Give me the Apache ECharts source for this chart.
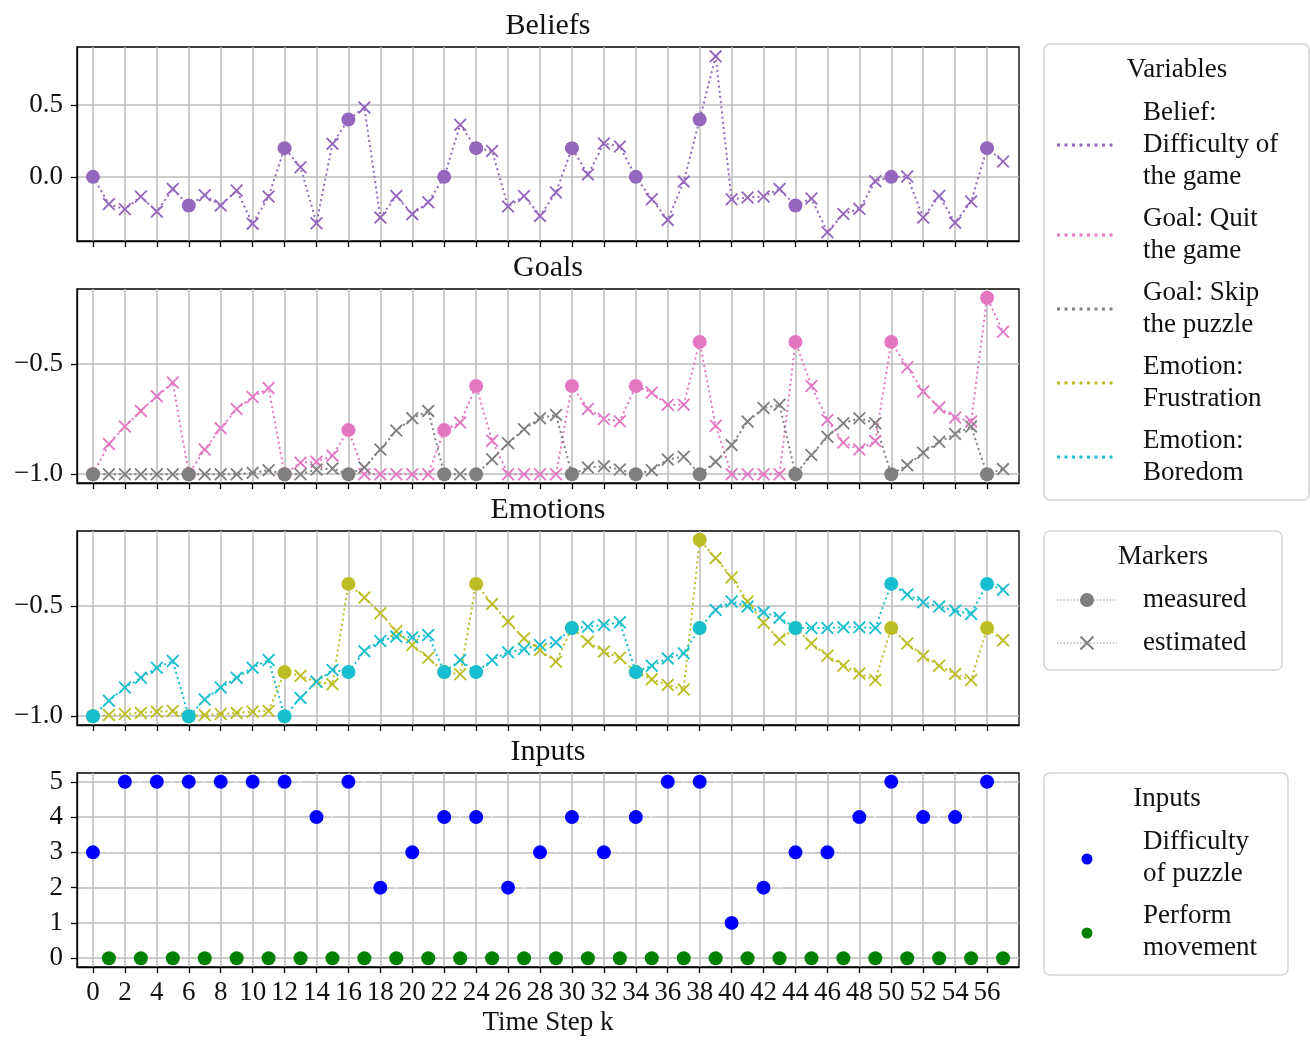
<!DOCTYPE html>
<html>
<head>
<meta charset="utf-8">
<script src="https://cdn.jsdelivr.net/npm/echarts@6.0.0/dist/echarts.min.js"></script>
<style>
  html, body { margin: 0; padding: 0; background: #ffffff; }
  #chart { width: 1310px; height: 1040px; }
</style>
</head>
<body>
<div id="chart"></div>
<script>
// Time steps of the session
const steps = Array.from({ length: 58 }, (_, k) => k);
// Steps at which the variables were measured (all others are estimated)
const measuredSteps = [0, 6, 12, 16, 22, 24, 30, 34, 38, 44, 50, 56];

// Belief: difficulty of the game
const beliefDifficulty = [0, -0.19, -0.226, -0.137, -0.242, -0.084, -0.2, -0.128, -0.2, -0.095,
  -0.326, -0.137, 0.2, 0.067, -0.323, 0.23, 0.4, 0.484, -0.284, -0.133,
  -0.26, -0.177, 0, 0.363, 0.2, 0.18, -0.207, -0.133, -0.272, -0.109,
  0.2, 0.016, 0.233, 0.212, 0, -0.156, -0.3, -0.033, 0.4, 0.84,
  -0.156, -0.144, -0.137, -0.084, -0.2, -0.151, -0.386, -0.258, -0.223, -0.03,
  0, 0.002, -0.284, -0.133, -0.319, -0.172, 0.2, 0.107];

// Goal: quit the game
const goalQuit = [-1, -0.863, -0.784, -0.713, -0.647, -0.584, -1, -0.888, -0.792, -0.704,
  -0.65, -0.609, -1, -0.948, -0.944, -0.916, -0.8, -1, -1, -1,
  -1, -1, -0.8, -0.766, -0.6, -0.848, -1, -1, -1, -1,
  -0.6, -0.704, -0.75, -0.76, -0.6, -0.63, -0.685, -0.685, -0.4, -0.78,
  -1, -1, -1, -1, -0.4, -0.6, -0.754, -0.856, -0.888, -0.85,
  -0.4, -0.515, -0.625, -0.698, -0.743, -0.761, -0.2, -0.354];

// Goal: skip the puzzle
const goalSkip = [-1, -1, -1, -1, -1, -1, -1, -1, -1, -1,
  -0.994, -0.982, -1, -1, -0.979, -0.974, -1, -0.97, -0.888, -0.802,
  -0.746, -0.713, -1, -1, -1, -0.932, -0.86, -0.796, -0.746, -0.731,
  -1, -0.97, -0.964, -0.979, -1, -0.982, -0.933, -0.921, -1, -0.944,
  -0.868, -0.761, -0.7, -0.685, -1, -0.913, -0.83, -0.769, -0.746, -0.769,
  -1, -0.959, -0.903, -0.853, -0.818, -0.784, -1, -0.977];

// Emotion: frustration
const emotionFrustration = [-1, -0.995, -0.99, -0.985, -0.98, -0.976, -1, -0.995, -0.99, -0.985,
  -0.98, -0.976, -0.8, -0.817, -0.844, -0.855, -0.4, -0.462, -0.533, -0.614,
  -0.677, -0.735, -0.8, -0.81, -0.4, -0.491, -0.571, -0.647, -0.7, -0.753,
  -0.6, -0.662, -0.707, -0.735, -0.8, -0.833, -0.858, -0.879, -0.2, -0.283,
  -0.371, -0.48, -0.576, -0.652, -0.6, -0.67, -0.726, -0.771, -0.806, -0.836,
  -0.6, -0.67, -0.727, -0.771, -0.809, -0.836, -0.6, -0.656];

// Emotion: boredom
const emotionBoredom = [-1, -0.93, -0.87, -0.826, -0.78, -0.75, -1, -0.924, -0.87, -0.826,
  -0.78, -0.745, -1, -0.917, -0.844, -0.79, -0.8, -0.705, -0.659, -0.639,
  -0.642, -0.632, -0.8, -0.745, -0.8, -0.745, -0.71, -0.695, -0.677, -0.665,
  -0.6, -0.594, -0.586, -0.574, -0.8, -0.771, -0.738, -0.715, -0.6, -0.518,
  -0.48, -0.503, -0.529, -0.553, -0.6, -0.6, -0.6, -0.597, -0.597, -0.6,
  -0.4, -0.448, -0.483, -0.503, -0.521, -0.536, -0.4, -0.426];

// Inputs: puzzle difficulty (even steps) and movement (odd steps)
const difficultySteps = [0, 2, 4, 6, 8, 10, 12, 14, 16, 18, 20, 22, 24, 26, 28, 30, 32, 34, 36, 38, 40, 42, 44, 46, 48, 50, 52, 54, 56];
const puzzleDifficulty = [3, 5, 5, 5, 5, 5, 5, 4, 5, 2, 3, 4, 4, 2, 3, 4, 3, 4, 5, 5, 1, 2, 3, 3, 4, 5, 4, 4, 5];
const movementSteps = [1, 3, 5, 7, 9, 11, 13, 15, 17, 19, 21, 23, 25, 27, 29, 31, 33, 35, 37, 39, 41, 43, 45, 47, 49, 51, 53, 55, 57];
const performMovement = [0, 0, 0, 0, 0, 0, 0, 0, 0, 0, 0, 0, 0, 0, 0, 0, 0, 0, 0, 0, 0, 0, 0, 0, 0, 0, 0, 0, 0];

// Tick labels
const xTicks = [0, 2, 4, 6, 8, 10, 12, 14, 16, 18, 20, 22, 24, 26, 28, 30, 32, 34, 36, 38, 40, 42, 44, 46, 48, 50, 52, 54, 56];
const beliefTicks = [0, 0.5];
const goalTicks = [-1, -0.5];
const emotionTicks = [-1, -0.5];
const inputTicks = [0, 1, 2, 3, 4, 5];

const panelTitles = ['Beliefs', 'Goals', 'Emotions', 'Inputs'];

const COLORS = {
  belief: '#9467bd', quit: '#e377c2', skip: '#7f7f7f',
  frustration: '#bcbd22', boredom: '#17becf',
  difficulty: '#0000ff', movement: '#008000'
};
const FONT = 'Liberation Serif';
const CROSS = 'path://M0,10L10,0L50,40L90,0L100,10L60,50L100,90L90,100L50,60L10,100L0,90L40,50Z';
const DOTTED = [2, 3.2];

const gridTops = [47, 289, 531, 773];
const GRID_LEFT = 77, GRID_W = 942, GRID_H = 194;

const measuredSet = new Set(measuredSteps);

function fmtNum(v, digits) {
  const s = Math.abs(v).toFixed(digits);
  return (v < 0 ? '\u2212' : '') + s;
}

function varSeries(name, values, color, idx) {
  return {
    type: 'line', name: name, xAxisIndex: idx, yAxisIndex: idx,
    data: values.map((v, i) => {
      const m = measuredSet.has(steps[i]);
      return { value: [steps[i], v], symbol: m ? 'circle' : CROSS, symbolSize: m ? 14 : 13 };
    }),
    showAllSymbol: true,
    lineStyle: { color: color, width: 2, type: DOTTED },
    itemStyle: { color: color },
    silent: true, animation: false
  };
}

const grids = gridTops.map(t => ({
  left: GRID_LEFT, top: t, width: GRID_W, height: GRID_H,
  show: true, borderColor: '#000', borderWidth: 1.3, backgroundColor: '#fff'
}));

const xAxes = gridTops.map((t, i) => ({
  type: 'value', gridIndex: i, min: -1, max: 58,
  axisLine: { show: true, onZero: false, lineStyle: { color: '#000', width: 1.3 } },
  axisTick: { show: true, customValues: xTicks, length: 6, lineStyle: { color: '#000', width: 1.3 } },
  axisLabel: {
    show: i === 3, customValues: xTicks, margin: 12,
    fontFamily: FONT, fontSize: 27, color: '#111'
  },
  splitLine: { show: true, lineStyle: { color: '#bdbdbd', width: 1.5 } }
}));

const yDefs = [
  { min: -0.447, max: 0.905, ticks: beliefTicks, digits: 1 },
  { min: -1.04, max: -0.16, ticks: goalTicks, digits: 1 },
  { min: -1.04, max: -0.16, ticks: emotionTicks, digits: 1 },
  { min: -0.25, max: 5.25, ticks: inputTicks, digits: 0 }
];
const yAxes = yDefs.map((d, i) => ({
  type: 'value', gridIndex: i, min: d.min, max: d.max,
  axisLine: { show: true, onZero: false, lineStyle: { color: '#000', width: 1.3 } },
  axisTick: { show: true, customValues: d.ticks, length: 6, lineStyle: { color: '#000', width: 1.3 } },
  axisLabel: {
    show: true, customValues: d.ticks, margin: 14,
    fontFamily: FONT, fontSize: 27, color: '#111',
    formatter: v => fmtNum(v, d.digits)
  },
  splitLine: { show: true, lineStyle: { color: '#bdbdbd', width: 1.5 } }
}));

// White dashes trailing each difficulty dot
const trailData = [];
difficultySteps.forEach((s, i) => {
  trailData.push([s, puzzleDifficulty[i]], [s + 1, puzzleDifficulty[i]], [s + 1.5, null]);
});

const series = [
  varSeries('Belief: Difficulty of the game', beliefDifficulty, COLORS.belief, 0),
  varSeries('Goal: Quit the game', goalQuit, COLORS.quit, 1),
  varSeries('Goal: Skip the puzzle', goalSkip, COLORS.skip, 1),
  varSeries('Emotion: Frustration', emotionFrustration, COLORS.frustration, 2),
  varSeries('Emotion: Boredom', emotionBoredom, COLORS.boredom, 2),
  {
    type: 'line', name: 'trail', xAxisIndex: 3, yAxisIndex: 3, data: trailData, z: 1,
    symbol: 'none', connectNulls: false, silent: true, animation: false,
    lineStyle: { color: '#ffffff', width: 2, type: [7, 8] }
  },
  {
    type: 'scatter', name: 'Difficulty of puzzle', xAxisIndex: 3, yAxisIndex: 3, z: 5,
    data: difficultySteps.map((s, i) => [s, puzzleDifficulty[i]]),
    symbol: 'circle', symbolSize: 14, itemStyle: { color: COLORS.difficulty, opacity: 1 },
    silent: true, animation: false
  },
  {
    type: 'scatter', name: 'Perform movement', xAxisIndex: 3, yAxisIndex: 3, z: 5,
    data: movementSteps.map((s, i) => [s, performMovement[i]]),
    symbol: 'circle', symbolSize: 14, itemStyle: { color: COLORS.movement, opacity: 1 },
    silent: true, animation: false
  }
];

// Panel titles, axis name and legend boxes
const txt = (x, y, text, align, size) => ({
  type: 'text', x: x, y: y, silent: true,
  style: { text: text, fill: '#111', font: (size || 27) + 'px "' + FONT + '"', textAlign: align || 'left', textVerticalAlign: 'middle' }
});
const box = (x, y, w, h) => ({
  type: 'rect', shape: { x: x, y: y, width: w, height: h, r: 6 }, silent: true,
  style: { fill: '#fff', stroke: '#d4d4d4', lineWidth: 1.5 }
});
const dottedLine = (y, color) => ({
  type: 'line', shape: { x1: 1057, y1: y, x2: 1117, y2: y }, silent: true,
  style: { stroke: color, lineWidth: 3, lineDash: [3, 4.5] }
});
const thinDotted = (y, color) => ({
  type: 'line', shape: { x1: 1057, y1: y, x2: 1117, y2: y }, silent: true,
  style: { stroke: color, lineWidth: 1.2, lineDash: [1.3, 2] }
});

const graphics = [];
panelTitles.forEach((t, i) => graphics.push(txt(548, gridTops[i] - 21, t, 'center', 30)));
graphics.push(txt(548, 1023, 'Time Step k', 'center', 27));

// Variables legend
graphics.push(box(1044, 44, 265, 456));
graphics.push(txt(1177, 70, 'Variables', 'center'));
const varEntries = [
  { lines: ['Belief:', 'Difficulty of', 'the game'], color: COLORS.belief, y0: 113 },
  { lines: ['Goal: Quit', 'the game'], color: COLORS.quit, y0: 219 },
  { lines: ['Goal: Skip', 'the puzzle'], color: COLORS.skip, y0: 293 },
  { lines: ['Emotion:', 'Frustration'], color: COLORS.frustration, y0: 367 },
  { lines: ['Emotion:', 'Boredom'], color: COLORS.boredom, y0: 441 }
];
varEntries.forEach(e => {
  e.lines.forEach((l, j) => graphics.push(txt(1143, e.y0 + j * 32, l)));
  graphics.push(dottedLine(e.y0 + (e.lines.length - 1) * 16, e.color));
});

// Markers legend
graphics.push(box(1044, 531, 238, 139));
graphics.push(txt(1163, 557, 'Markers', 'center'));
graphics.push(thinDotted(600, COLORS.skip));
graphics.push({ type: 'circle', shape: { cx: 1087, cy: 600, r: 7 }, silent: true, style: { fill: COLORS.skip } });
graphics.push(txt(1143, 600, 'measured'));
graphics.push(thinDotted(643, COLORS.skip));
graphics.push({
  type: 'group', x: 1080.5, y: 636.5, silent: true,
  children: [
    { type: 'line', shape: { x1: 0, y1: 0, x2: 13, y2: 13 }, style: { stroke: COLORS.skip, lineWidth: 1.9 } },
    { type: 'line', shape: { x1: 13, y1: 0, x2: 0, y2: 13 }, style: { stroke: COLORS.skip, lineWidth: 1.9 } }
  ]
});
graphics.push(txt(1143, 643, 'estimated'));

// Inputs legend
graphics.push(box(1044, 773, 244, 202));
graphics.push(txt(1167, 799, 'Inputs', 'center'));
graphics.push({ type: 'circle', shape: { cx: 1087, cy: 859, r: 5.5 }, silent: true, style: { fill: COLORS.difficulty } });
graphics.push(txt(1143, 842, 'Difficulty'));
graphics.push(txt(1143, 874, 'of puzzle'));
graphics.push({ type: 'circle', shape: { cx: 1087, cy: 933, r: 5.5 }, silent: true, style: { fill: COLORS.movement } });
graphics.push(txt(1143, 916, 'Perform'));
graphics.push(txt(1143, 948, 'movement'));

const chart = echarts.init(document.getElementById('chart'), null, { renderer: 'canvas', width: 1310, height: 1040 });
chart.setOption({
  backgroundColor: '#ffffff',
  animation: false,
  grid: grids,
  xAxis: xAxes,
  yAxis: yAxes,
  series: series,
  graphic: graphics
});
</script>
</body>
</html>
